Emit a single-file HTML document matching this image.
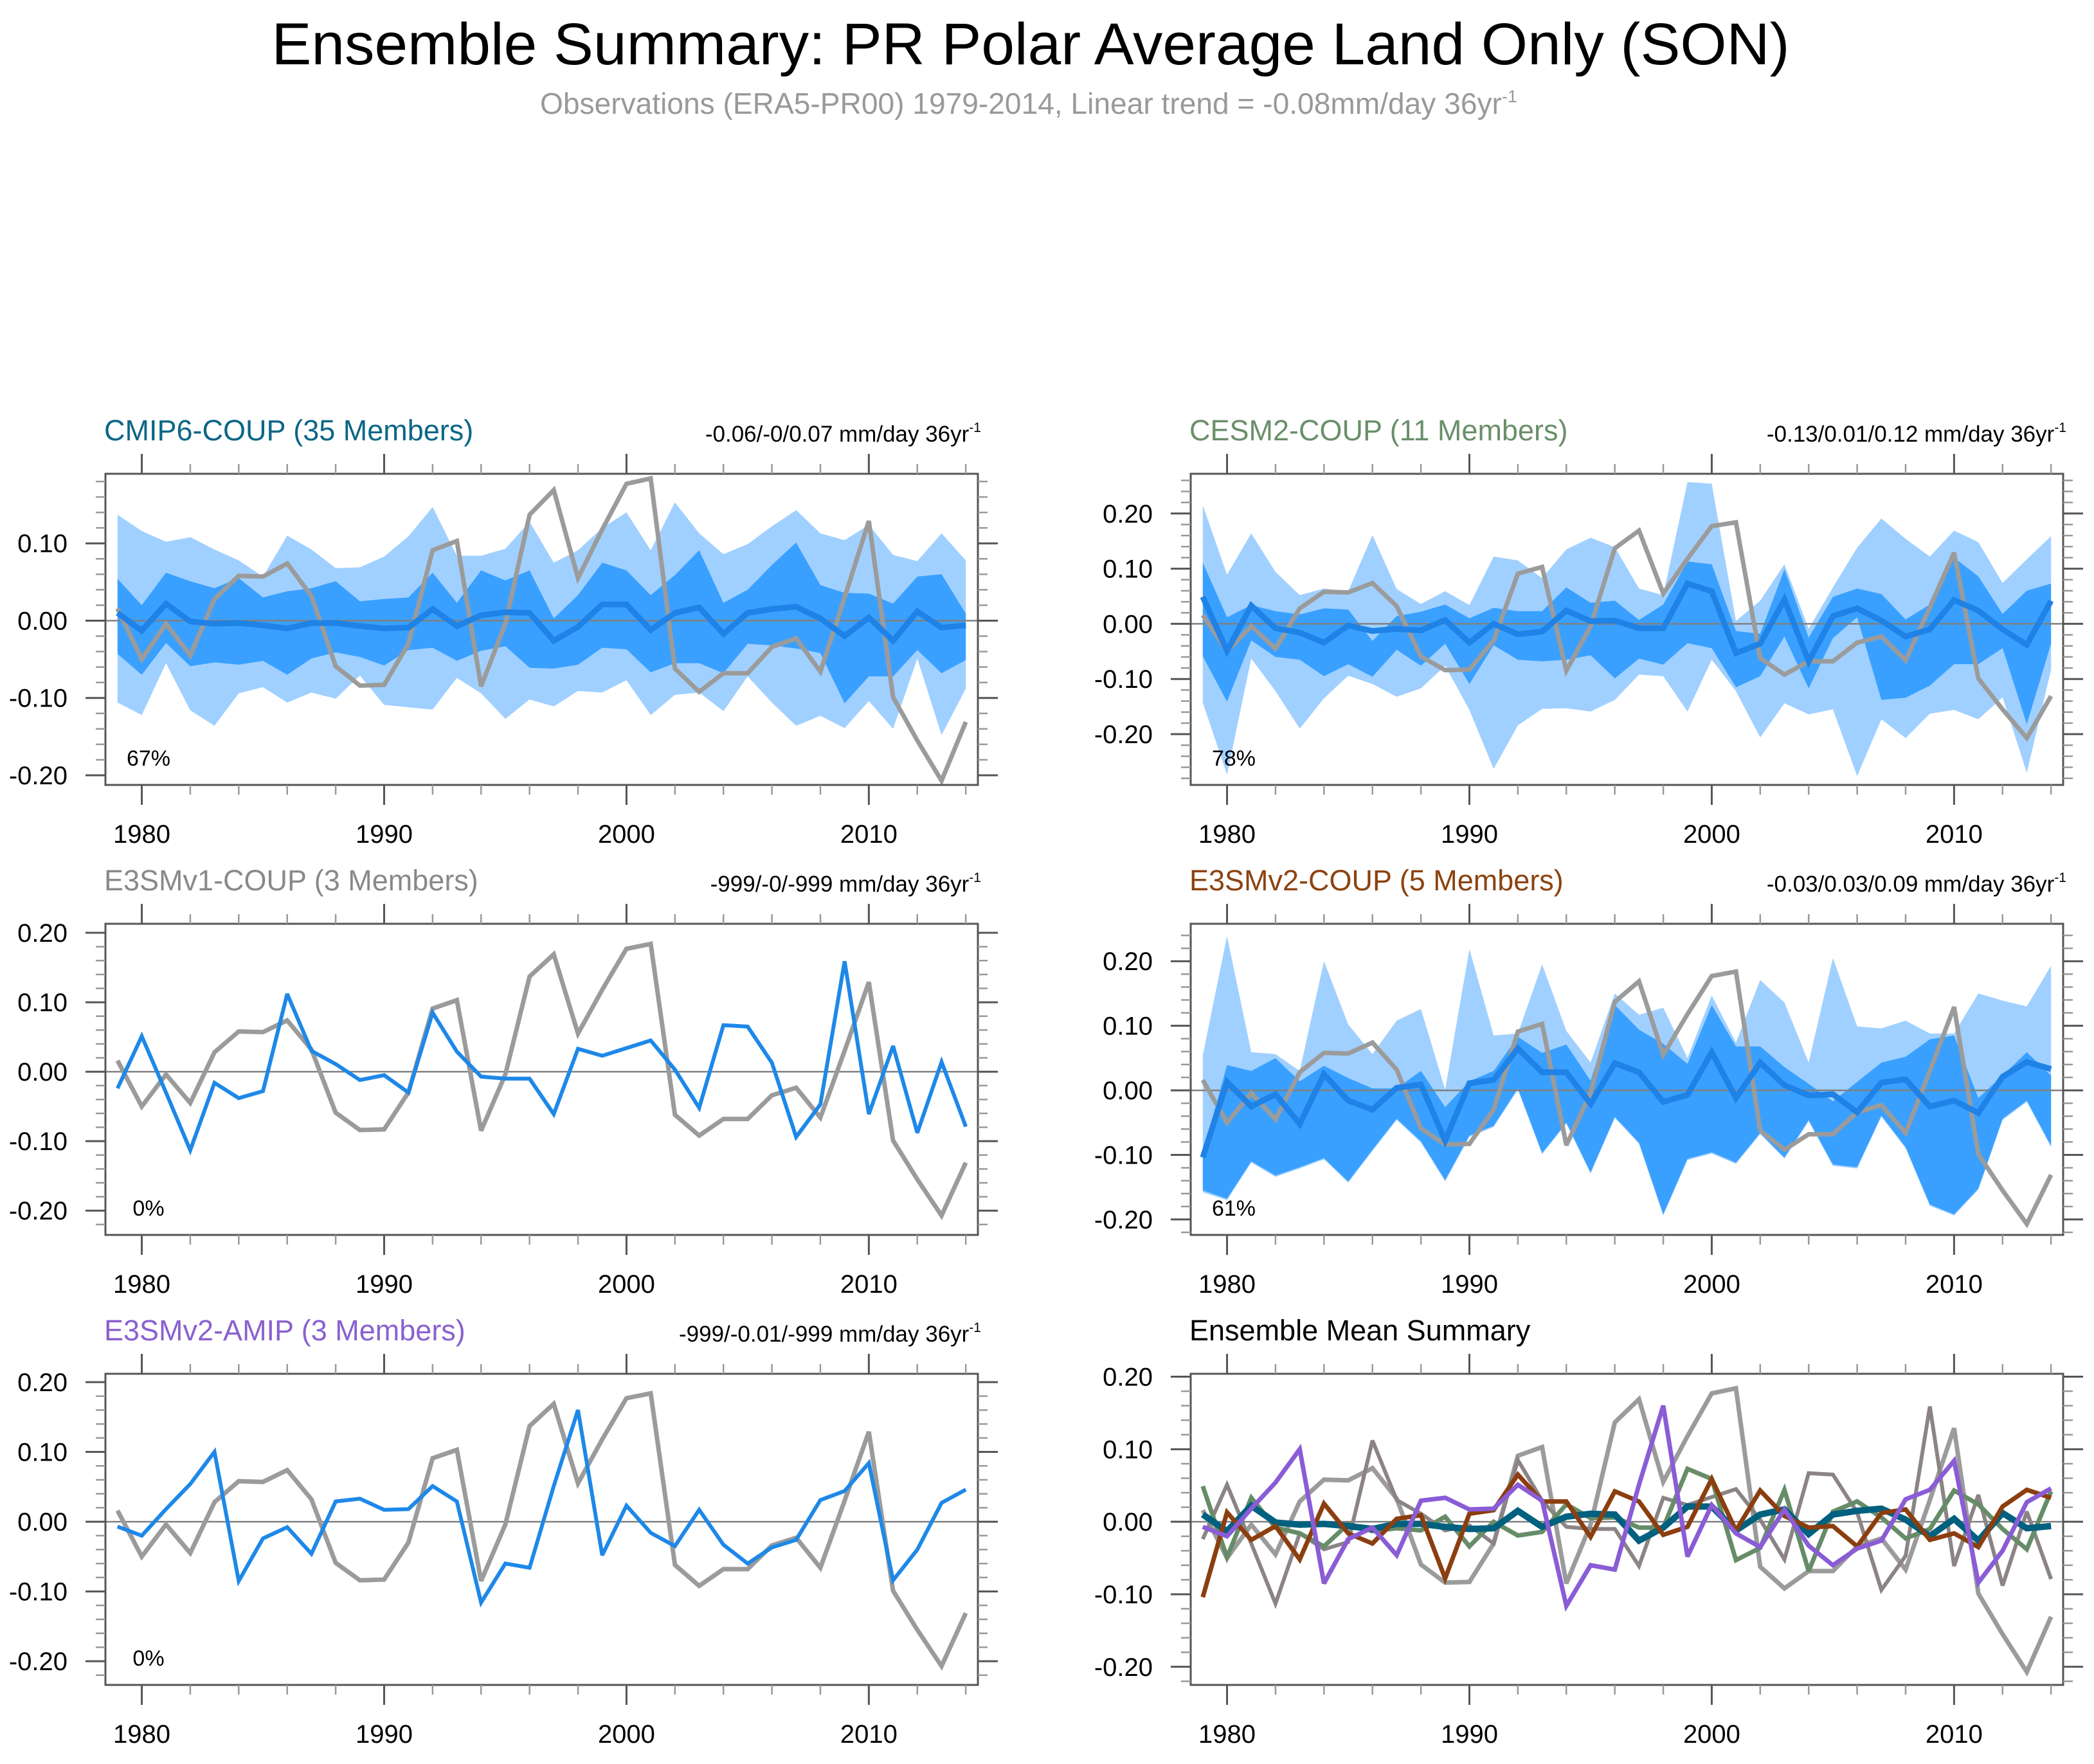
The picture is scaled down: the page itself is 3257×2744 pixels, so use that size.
<!DOCTYPE html>
<html><head><meta charset="utf-8"><style>
html,body{margin:0;padding:0;background:#fff;}
svg{display:block;font-family:"Liberation Sans",Arial,sans-serif;}
</style></head><body>
<svg id="chart" width="3257" height="2744" viewBox="0 0 3257 2744" xmlns="http://www.w3.org/2000/svg">
<rect width="3257" height="2744" fill="#fff"/>
<text x="1603" y="100" font-size="92" text-anchor="middle" textLength="2361" lengthAdjust="spacingAndGlyphs" fill="#000">Ensemble Summary: PR Polar Average Land Only (SON)</text>
<text x="1600" y="177" font-size="46" text-anchor="middle" textLength="1520" lengthAdjust="spacingAndGlyphs" fill="#999">Observations (ERA5-PR00) 1979-2014, Linear trend = -0.08mm/day 36yr<tspan dy="-18" font-size="27">-1</tspan></text>
<g id="panels"></g>
</svg>
<script>
const years = [];
for (let y = 1979; y <= 2014; y++) years.push(y);

const obs = [0.016,-0.050,-0.004,-0.045,0.028,0.058,0.057,0.074,0.032,-0.059,-0.084,-0.083,-0.030,0.091,0.103,-0.085,-0.004,0.137,0.169,0.055,0.118,0.177,0.184,-0.062,-0.092,-0.068,-0.068,-0.034,-0.023,-0.066,0.030,0.129,-0.099,-0.155,-0.207,-0.131];

const cmipMean = [0.010,-0.013,0.022,-0.001,-0.004,-0.003,-0.006,-0.010,-0.003,-0.003,-0.007,-0.010,-0.009,0.015,-0.007,0.007,0.011,0.010,-0.026,-0.008,0.021,0.021,-0.012,0.010,0.017,-0.017,0.010,0.015,0.018,0.003,-0.020,0.004,-0.026,0.012,-0.009,-0.006];
const cmipDarkHi = [0.054,0.020,0.062,0.051,0.042,0.055,0.030,0.038,0.042,0.051,0.025,0.028,0.030,0.062,0.023,0.065,0.052,0.065,0.003,0.033,0.075,0.065,0.033,0.059,0.091,0.023,0.040,0.072,0.101,0.046,0.036,0.035,0.022,0.057,0.060,0.009];
const cmipDarkLo = [-0.043,-0.070,-0.029,-0.059,-0.054,-0.057,-0.052,-0.070,-0.049,-0.041,-0.047,-0.058,-0.038,-0.035,-0.052,-0.039,-0.033,-0.061,-0.062,-0.057,-0.035,-0.037,-0.067,-0.055,-0.055,-0.068,-0.030,-0.032,-0.036,-0.042,-0.107,-0.072,-0.072,-0.038,-0.068,-0.051];
const cmipLightHi = [0.137,0.116,0.102,0.108,0.092,0.078,0.057,0.110,0.092,0.068,0.069,0.083,0.109,0.147,0.084,0.084,0.093,0.128,0.075,0.091,0.120,0.140,0.091,0.153,0.113,0.086,0.099,0.122,0.143,0.113,0.104,0.124,0.085,0.077,0.113,0.078];
const cmipLightLo = [-0.106,-0.122,-0.055,-0.116,-0.136,-0.094,-0.086,-0.106,-0.093,-0.101,-0.071,-0.109,-0.112,-0.115,-0.074,-0.094,-0.127,-0.102,-0.111,-0.091,-0.093,-0.077,-0.122,-0.096,-0.093,-0.117,-0.072,-0.106,-0.136,-0.123,-0.139,-0.104,-0.140,-0.049,-0.148,-0.088];

const cesmMean = [0.049,-0.049,0.033,-0.008,-0.016,-0.034,-0.003,-0.013,-0.009,-0.012,0.007,-0.034,0.000,-0.019,-0.014,0.024,0.005,0.006,-0.008,-0.008,0.073,0.059,-0.053,-0.036,0.044,-0.068,0.014,0.028,0.006,-0.023,-0.010,0.043,0.024,-0.010,-0.038,0.042];
const cesmDarkHi = [0.111,0.012,0.034,0.023,0.017,0.028,0.026,-0.031,0.014,0.022,0.035,0.010,0.029,0.023,0.023,0.066,0.038,0.042,0.007,0.035,0.113,0.108,-0.013,-0.018,0.099,-0.025,0.049,0.064,0.054,0.008,0.035,0.120,0.086,0.018,0.060,0.073];
const cesmDarkLo = [-0.059,-0.141,-0.030,-0.060,-0.065,-0.095,-0.073,-0.096,-0.047,-0.076,-0.036,-0.109,-0.039,-0.065,-0.068,-0.065,-0.057,-0.099,-0.063,-0.074,-0.035,-0.044,-0.115,-0.095,-0.023,-0.117,-0.026,0.012,-0.138,-0.134,-0.112,-0.073,-0.073,-0.044,-0.182,-0.036];
const cesmLightHi = [0.215,0.089,0.164,0.094,0.052,0.064,0.059,0.161,0.063,0.036,0.059,0.034,0.122,0.115,0.083,0.135,0.156,0.139,0.064,0.052,0.257,0.254,0.005,0.042,0.108,-0.009,0.066,0.138,0.191,0.154,0.122,0.169,0.148,0.074,0.117,0.159];
const cesmLightLo = [-0.143,-0.273,-0.063,-0.122,-0.190,-0.135,-0.094,-0.109,-0.132,-0.117,-0.076,-0.156,-0.263,-0.184,-0.154,-0.153,-0.159,-0.138,-0.092,-0.095,-0.159,-0.065,-0.122,-0.206,-0.144,-0.164,-0.155,-0.276,-0.173,-0.207,-0.163,-0.156,-0.173,-0.133,-0.270,-0.083];

const e3v1 = [-0.024,0.051,-0.030,-0.113,-0.016,-0.038,-0.028,0.112,0.030,0.011,-0.012,-0.005,-0.030,0.085,0.029,-0.007,-0.010,-0.010,-0.061,0.033,0.023,0.034,0.045,0.003,-0.052,0.067,0.065,0.013,-0.094,-0.047,0.159,-0.061,0.037,-0.088,0.014,-0.079];

const e3v2Mean = [-0.104,0.013,-0.025,-0.006,-0.052,0.025,-0.016,-0.030,0.004,0.009,-0.078,0.011,0.016,0.065,0.028,0.028,-0.021,0.042,0.028,-0.018,-0.007,0.059,-0.012,0.043,0.008,-0.008,-0.006,-0.034,0.012,0.017,-0.025,-0.016,-0.035,0.021,0.044,0.033];
const e3v2DarkHi = [-0.097,0.039,0.030,0.050,0.014,0.038,0.019,0.003,0.003,0.030,-0.026,0.014,0.030,0.083,0.058,0.071,0.015,0.132,0.094,0.072,0.041,0.132,0.068,0.068,0.036,0.010,-0.017,0.013,0.043,0.052,0.079,0.085,-0.012,0.023,0.059,0.023];
const e3v2DarkLo = [-0.155,-0.168,-0.110,-0.132,-0.119,-0.105,-0.141,-0.092,-0.044,-0.079,-0.139,-0.070,-0.055,0.003,-0.097,-0.050,-0.127,-0.041,-0.081,-0.192,-0.106,-0.096,-0.112,-0.066,-0.104,-0.046,-0.115,-0.119,-0.039,-0.088,-0.177,-0.192,-0.152,-0.044,-0.016,-0.086];
const e3v2LightHi = [0.054,0.239,0.059,0.056,0.030,0.200,0.102,0.056,0.108,0.126,0.001,0.219,0.085,0.088,0.195,0.092,0.043,0.150,0.117,0.128,0.050,0.147,0.074,0.171,0.136,0.043,0.205,0.099,0.096,0.108,0.088,0.088,0.150,0.139,0.130,0.193];
const e3v2LightLo = [-0.158,-0.170,-0.112,-0.134,-0.121,-0.107,-0.143,-0.094,-0.046,-0.081,-0.141,-0.072,-0.057,0.001,-0.099,-0.052,-0.129,-0.043,-0.083,-0.194,-0.108,-0.098,-0.114,-0.068,-0.106,-0.048,-0.117,-0.121,-0.041,-0.090,-0.179,-0.194,-0.154,-0.046,-0.018,-0.088];

const amip = [-0.007,-0.020,0.018,0.054,0.100,-0.085,-0.024,-0.008,-0.046,0.029,0.033,0.017,0.018,0.051,0.029,-0.116,-0.060,-0.066,0.051,0.160,-0.048,0.023,-0.016,-0.035,0.017,-0.033,-0.060,-0.037,-0.026,0.031,0.044,0.084,-0.084,-0.040,0.027,0.046];

const yTickVals = [-0.20,-0.10,0.00,0.10,0.20];
const yTickLabels = ["-0.20","-0.10","0.00","0.10","0.20"];
const xTickVals = [1980,1990,2000,2010];
const xTickLabels = ["1980","1990","2000","2010"];

const NS = "http://www.w3.org/2000/svg";
const root = document.getElementById('panels');
function mk(tag, attrs, parent){
  const e = document.createElementNS(NS, tag);
  for (const k in attrs) e.setAttribute(k, attrs[k]);
  (parent||root).appendChild(e);
  return e;
}

const COLX = [164, 1852], COLW = 1357;
const ROWY = [737, 1437, 2137], ROWH = 484;
const LIGHT = "#a0d0ff", DARK = "#3aa0ff", MEANC = "#1f82e6", OBSC = "#9b9b9b";

const panels = [
  {id:"cmip6", col:0,row:0,ymin:-0.2125,ymax:0.190,title:"CMIP6-COUP (35 Members)",tc:"#0b6686",trend:"-0.06/-0/0.07 mm/day 36yr",pct:"67%",
   bands:[cmipLightLo,cmipLightHi,cmipDarkLo,cmipDarkHi], mean:cmipMean},
  {id:"cesm2", col:1,row:0,ymin:-0.292,ymax:0.272,title:"CESM2-COUP (11 Members)",tc:"#6a8f6a",trend:"-0.13/0.01/0.12 mm/day 36yr",pct:"78%",
   bands:[cesmLightLo,cesmLightHi,cesmDarkLo,cesmDarkHi], mean:cesmMean},
  {id:"e3smv1", col:0,row:1,ymin:-0.235,ymax:0.213,title:"E3SMv1-COUP (3 Members)",tc:"#8c8888",trend:"-999/-0/-999 mm/day 36yr",pct:"0%",
   single:e3v1},
  {id:"e3smv2", col:1,row:1,ymin:-0.224,ymax:0.258,title:"E3SMv2-COUP (5 Members)",tc:"#8b4310",trend:"-0.03/0.03/0.09 mm/day 36yr",pct:"61%",
   bands:[e3v2LightLo,e3v2LightHi,e3v2DarkLo,e3v2DarkHi], mean:e3v2Mean},
  {id:"amip", col:0,row:2,ymin:-0.234,ymax:0.212,title:"E3SMv2-AMIP (3 Members)",tc:"#8a60d0",trend:"-999/-0.01/-999 mm/day 36yr",pct:"0%",
   single:amip},
  {id:"summary", col:1,row:2,ymin:-0.225,ymax:0.204,title:"Ensemble Mean Summary",tc:"#000",trend:null,pct:null, summary:true}
];

panels.forEach(p=>{
  const x0 = COLX[p.col], x1 = x0+COLW, y0 = ROWY[p.row], y1 = y0+ROWH;
  const xs = v => x0 + (v-1978.5)/36*(x1-x0);
  const ys = v => y1 - (v-p.ymin)/(p.ymax-p.ymin)*(y1-y0);
  const g = mk('g',{});
  
  

  const clipId = 'clip-'+p.id;
  const cp = mk('clipPath',{id:clipId}, g);
  mk('rect',{x:x0,y:y0,width:x1-x0,height:y1-y0},cp);
  const plot = mk('g',{'clip-path':'url(#'+clipId+')'}, g);

  function band(lo, hi, color, name){
    let d = '';
    years.forEach((yr,i)=>{ d += (i?'L':'M')+xs(yr).toFixed(1)+','+ys(hi[i]).toFixed(1); });
    for (let i=years.length-1;i>=0;i--) d += 'L'+xs(years[i]).toFixed(1)+','+ys(lo[i]).toFixed(1);
    const e = mk('path',{d:d+'Z',fill:color,stroke:'none'}, plot);
    
    
  }
  function line(vals, color, w, name){
    const d = vals.map((v,i)=>(i?'L':'M')+xs(years[i]).toFixed(1)+','+ys(v).toFixed(1)).join('');
    const e = mk('path',{d:d,fill:'none',stroke:color,'stroke-width':w,'stroke-linejoin':'miter','stroke-miterlimit':3}, plot);
    
    
  }

  if (p.bands){
    band(p.bands[0], p.bands[1], LIGHT, 'outer-spread-band');
    band(p.bands[2], p.bands[3], DARK, 'inner-spread-band');
  }
  const zl = mk('line',{x1:x0,x2:x1,y1:ys(0),y2:ys(0),stroke:'#808080','stroke-width':2.5}, plot);
  
  

  if (p.summary){
    line(obs, OBSC, 7, 'observations-line');
    line(e3v1, '#8c8484', 6, 'e3smv1-mean-line');
    line(cesmMean, '#678c68', 7, 'cesm2-mean-line');
    line(cmipMean, '#00607f', 10, 'cmip6-mean-line');
    line(e3v2Mean, '#8b3e0f', 7, 'e3smv2-mean-line');
    line(amip, '#8a5cd6', 7, 'amip-mean-line');
  } else {
    line(obs, OBSC, 7, 'observations-line');
    if (p.single) line(p.single, '#1e88e8', 6, 'ensemble-mean-line');
    else line(p.mean, MEANC, 9, 'ensemble-mean-line');
  }

  const fr = mk('rect',{x:x0,y:y0,width:x1-x0,height:y1-y0,fill:'none',stroke:'#555','stroke-width':3}, g);
  
  

  for (let k=-20; k<=20; k++){
    const v = k*0.02;
    if (v < p.ymin || v > p.ymax) continue;
    const yy = ys(v);
    const isMajor = (k % 5 === 0);
    const L = isMajor ? 31 : 15;
    mk('line',{x1:x0-L,x2:x0,y1:yy,y2:yy,stroke:isMajor?'#555':'#999','stroke-width':isMajor?3:2.5}, g);
    mk('line',{x1:x1,x2:x1+L,y1:yy,y2:yy,stroke:isMajor?'#555':'#999','stroke-width':isMajor?3:2.5}, g);
  }
  yTickVals.forEach((v,i)=>{
    if (v < p.ymin || v > p.ymax) return;
    const t = mk('text',{x:x0-59,y:ys(v)+14,'font-size':40,'text-anchor':'end',fill:'#000'}, g);
    t.textContent = yTickLabels[i];
    
    
  });
  for (let yr=1980; yr<=2014; yr+=2){
    const xx = xs(yr);
    const isMajor = (yr % 10 === 0);
    const L = isMajor ? 31 : 15;
    mk('line',{x1:xx,x2:xx,y1:y0-L,y2:y0,stroke:isMajor?'#555':'#999','stroke-width':isMajor?3:2.5}, g);
    mk('line',{x1:xx,x2:xx,y1:y1,y2:y1+L,stroke:isMajor?'#555':'#999','stroke-width':isMajor?3:2.5}, g);
  }
  xTickVals.forEach((v,i)=>{
    const t = mk('text',{x:xs(v),y:y1+90,'font-size':40,'text-anchor':'middle',fill:'#000'}, g);
    t.textContent = xTickLabels[i];
    
    
  });
  const tt = mk('text',{x:x0-2,y:y0-52,'font-size':45,fill:p.tc}, g);
  tt.textContent = p.title;
  
  
  if (p.trend){
    const tr = mk('text',{x:x1+5,y:y0-50,'font-size':35,'text-anchor':'end',fill:'#000'}, g);
    
    
    tr.appendChild(document.createTextNode(p.trend));
    const sup = mk('tspan',{dy:-15,'font-size':21}, tr);
    sup.textContent = '-1';
  }
  if (p.pct){
    const pc = mk('text',{x:x0+67,y:y1-30,'font-size':34,'text-anchor':'middle',fill:'#000'}, g);
    pc.textContent = p.pct;
    
    
  }
});
</script>
</body></html>
